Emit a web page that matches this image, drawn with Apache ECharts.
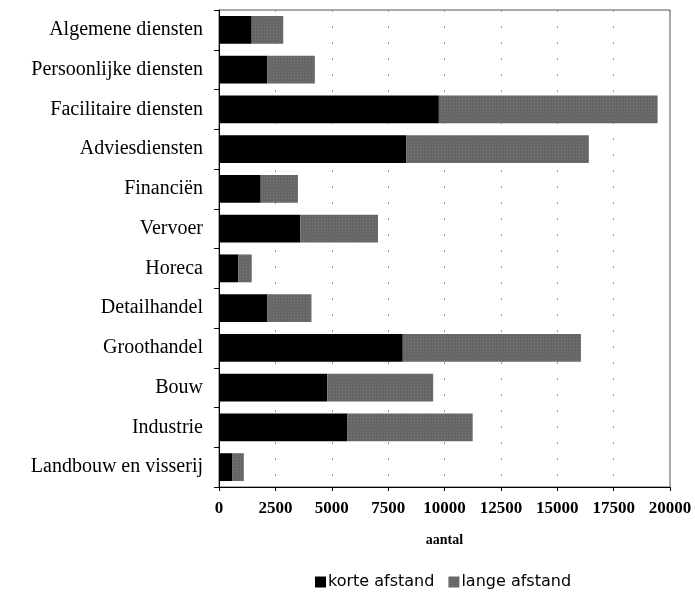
<!DOCTYPE html>
<html>
<head>
<meta charset="utf-8">
<script src="https://cdn.jsdelivr.net/npm/echarts@6/dist/echarts.min.js"></script>
<style>
  html, body { margin: 0; padding: 0; background: #fff; }
  #chart { width: 695px; height: 594px; }
</style>
</head>
<body>
<div id="chart"></div>
<script>
// categories from bottom to top (category axis on y starts at the bottom)
var sectors = ['Landbouw en visserij', 'Industrie', 'Bouw', 'Groothandel', 'Detailhandel',
  'Horeca', 'Vervoer', 'Financiën', 'Adviesdiensten', 'Facilitaire diensten',
  'Persoonlijke diensten', 'Algemene diensten']
var korteAfstand = [600, 5700, 4800, 8150, 2150, 850, 3600, 1850, 8300, 9750, 2150, 1450]
var langeAfstand = [500, 5550, 4700, 7900, 1950, 600, 3450, 1650, 8100, 9700, 2100, 1400]
var xTicks = [0, 2500, 5000, 7500, 10000, 12500, 15000, 17500, 20000]

var chart = echarts.init(document.getElementById('chart'))
var serif = '"Liberation Serif", "DejaVu Serif", serif'

chart.setOption({
  animation: false,
  grid: {
    left: 219,
    right: 25,
    top: 10,
    bottom: 107,
    show: true,
    borderColor: '#555',
    borderWidth: 1
  },
  legend: {
    top: 569,
    left: 310,
    itemWidth: 11,
    itemHeight: 11,
    itemGap: 14,
    icon: 'rect',
    textStyle: {
      fontFamily: '"DejaVu Sans", sans-serif',
      fontSize: 16,
      color: '#000',
      padding: [0, 0, 0, -3]
    },
    data: ['korte afstand', 'lange afstand']
  },
  xAxis: {
    type: 'value',
    min: xTicks[0],
    max: xTicks[xTicks.length - 1],
    interval: 2500,
    name: 'aantal',
    nameLocation: 'middle',
    nameGap: 46,
    nameTextStyle: {
      fontFamily: serif,
      fontWeight: 'bold',
      fontSize: 14,
      color: '#000'
    },
    axisLine: { show: true, lineStyle: { color: '#000' } },
    axisTick: { show: true, length: 4, lineStyle: { color: '#000' } },
    axisLabel: {
      fontFamily: serif,
      fontSize: 17,
      fontWeight: 'bold',
      color: '#000',
      margin: 13,
      formatter: function (v) { return String(v) }
    },
    splitLine: {
      show: true,
      lineStyle: { color: '#999', type: [2, 14] }
    }
  },
  yAxis: {
    type: 'category',
    data: sectors,
    axisLine: { show: true, lineStyle: { color: '#000' } },
    axisTick: { show: true, length: 5, lineStyle: { color: '#000' } },
    axisLabel: {
      fontFamily: serif,
      fontSize: 20,
      color: '#000',
      margin: 16
    }
  },
  series: [
    {
      name: 'korte afstand',
      type: 'bar',
      stack: 'totaal',
      barWidth: '70%',
      itemStyle: { color: '#000' },
      data: korteAfstand
    },
    {
      name: 'lange afstand',
      type: 'bar',
      stack: 'totaal',
      barWidth: '70%',
      itemStyle: {
        color: '#666',
        decal: {
          symbol: 'rect',
          symbolSize: 0.6,
          dashArrayX: [1, 2],
          dashArrayY: [1, 2],
          color: 'rgba(210,210,210,0.6)',
          rotation: 0
        }
      },
      data: langeAfstand
    }
  ]
})
</script>
</body>
</html>
